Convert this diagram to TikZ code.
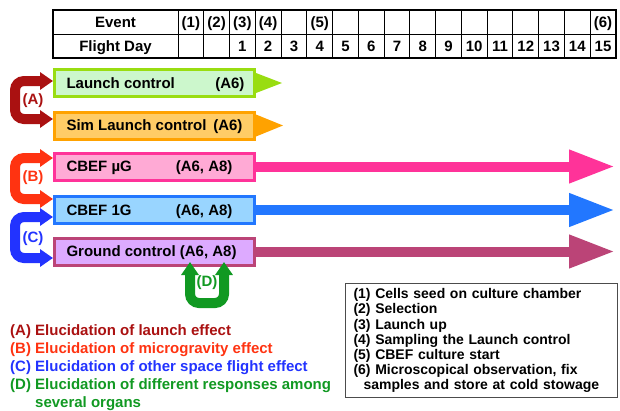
\documentclass[tikz,border=0pt]{standalone}
\usepackage{fontspec}
\setmainfont{Liberation Sans}
\usetikzlibrary{arrows.meta}

% bar colours
\definecolor{lcfill}{HTML}{CCF7CC}
\definecolor{lcline}{HTML}{99DD11}
\definecolor{slfill}{HTML}{FFCC66}
\definecolor{slline}{HTML}{FFA200}
\definecolor{mgfill}{HTML}{FFAAD5}
\definecolor{mgline}{HTML}{FF3399}
\definecolor{ogfill}{HTML}{99D5FF}
\definecolor{ogline}{HTML}{2277FF}
\definecolor{gcfill}{HTML}{DDAAFF}
\definecolor{gcline}{HTML}{BB4477}
% comparison colours
\definecolor{effA}{HTML}{AA1111}
\definecolor{effB}{HTML}{FF3311}
\definecolor{effC}{HTML}{2233FF}
\definecolor{effD}{HTML}{119922}

\begin{document}
\begin{tikzpicture}[x = 1pt, y = -1pt,
        font = \bfseries\fontsize{15}{18}\selectfont,
        bar/.style = {draw, line width = 3pt, minimum width = 200pt, minimum height = 27pt, inner sep = 0pt, anchor = west},
        runarrow/.style = {line width = 10pt, -{Triangle[length = 46pt, width = 31pt]}},
        bracket/.style = {line width = 10pt, rounded corners = 9pt, {Triangle[length = 13pt, width = 17pt]}-{Triangle[length = 13pt, width = 17pt]}},
        cell/.style = {anchor = base, inner sep = 0pt}]
    \useasboundingbox (0, 0) rectangle (620, 410);

    % time table
    \draw [line width = 1pt] (53, 34) -- (616, 34);
    \foreach \k in {0, ..., 16}
        \draw [line width = 1pt] (178 + 25.76*\k, 10) -- (178 + 25.76*\k, 58);
    \draw [line width = 2pt] (53, 10) rectangle (616, 58);
    \node [cell] (event) at (115.5, 27.5) {Event};
    \node [cell] (day) at (115.5, 51.5) {Flight Day};
    \foreach \e/\k in {1/0, 2/1, 3/2, 4/3, 5/5, 6/16}
        \node [cell] (ev\e) at (178 + 25.76*\k + 12.88, 27.5) {(\e)};
    \foreach \d [count = \k from 2] in {1, ..., 15}
        \node [cell] (d\d) at (178 + 25.76*\k + 12.88, 51.5) {\d};

    % sample bars
    \node [bar, draw = lcline, fill = lcfill] (launch) at (53, 83) {};
    \node [bar, draw = slline, fill = slfill] (sim) at (53, 125.5) {};
    \node [bar, draw = mgline, fill = mgfill] (mug) at (53, 166.5) {};
    \node [bar, draw = ogline, fill = ogfill] (oneg) at (53, 210) {};
    \node [bar, draw = gcline, fill = gcfill] (ground) at (53, 251.5) {};

    \node [anchor = base west] (launchtxt) at ([xshift = 10pt, yshift = -5.4pt]launch.west) {Launch control};
    \node [anchor = base east] (launchtag) at ([xshift = -8pt, yshift = -5.4pt]launch.east) {(A6)};
    \node [anchor = base west] (simtxt) at ([xshift = 10pt, yshift = -5.4pt]sim.west) {Sim Launch control};
    \node [anchor = base east] (simtag) at ([xshift = -10pt, yshift = -5.4pt]sim.east) {(A6)};
    \node [anchor = base west] (mugtxt) at ([xshift = 10pt, yshift = -5.4pt]mug.west) {CBEF µG};
    \node [anchor = base east] (mugtag) at ([xshift = -20pt, yshift = -5.4pt]mug.east) {(A6, A8)};
    \node [anchor = base west] (onegtxt) at ([xshift = 10pt, yshift = -5.4pt]oneg.west) {CBEF 1G};
    \node [anchor = base east] (onegtag) at ([xshift = -20pt, yshift = -5.4pt]oneg.east) {(A6, A8)};
    \node [anchor = base west] (groundtxt) at ([xshift = 10pt, yshift = -5.4pt]ground.west) {Ground control (A6, A8)};

    % short runs and long runs
    \fill [lcline] ([yshift = 10pt]launch.east) -- ([xshift = 26pt]launch.east) -- ([yshift = -10pt]launch.east) -- cycle;
    \fill [slline] ([yshift = 11pt]sim.east) -- ([xshift = 27pt]sim.east) -- ([yshift = -11pt]sim.east) -- cycle;
    \coordinate (finish) at (615, 0);
    \draw [runarrow, mgline] (mug.east) -- (mug.east -| finish);
    \draw [runarrow, ogline] (oneg.east) -- (oneg.east -| finish);
    \draw [runarrow, gcline] (ground.east) -- (ground.east -| finish);

    % comparisons
    \draw [bracket, effA] ([yshift = 2pt]launch.west) -- (15, 81) -- (15, 119) -- ([yshift = 6.5pt]sim.west);
    \draw [bracket, effB] ([yshift = 8.5pt]mug.west) -- (15, 158) -- (15, 199) -- ([yshift = 11pt]oneg.west);
    \draw [bracket, effC] ([yshift = -7pt]oneg.west) -- (15, 217) -- (15, 258) -- ([yshift = -6.5pt]ground.west);
    \draw [bracket, effD] (190, 262) -- (190, 303) -- (224, 303) -- (224, 262);
    \node [effA] (cmpA) at (33, 101) {(A)};
    \node [effB] (cmpB) at (33, 178) {(B)};
    \node [effC] (cmpC) at (33, 239) {(C)};
    \node [effD] (cmpD) at (207, 283) {(D)};

    % key to the comparisons
    \node [anchor = north west, align = left, inner sep = 0pt] (key) at (10, 324) {%
        {\color{effA}(A) Elucidation of launch effect}\\
        {\color{effB}(B) Elucidation of microgravity effect}\\
        {\color{effC}(C) Elucidation of other space flight effect}\\
        {\color{effD}(D) Elucidation of different responses among}\\
        {\color{effD}\hspace*{25pt}several organs}};

    % key to the events
    \node [draw = black!70, line width = 1pt, anchor = north west, align = left, text width = 256pt,
        inner xsep = 8pt, inner ysep = 5pt, font = \bfseries\fontsize{14}{15.2}\selectfont] (events) at (345, 283) {%
        (1) Cells seed on culture chamber\\
        (2) Selection\\
        (3) Launch up\\
        (4) Sampling the Launch control\\
        (5) CBEF culture start\\
        (6) Microscopical observation, fix\\
        \hspace*{10pt}samples and store at cold stowage};
\end{tikzpicture}
\end{document}
